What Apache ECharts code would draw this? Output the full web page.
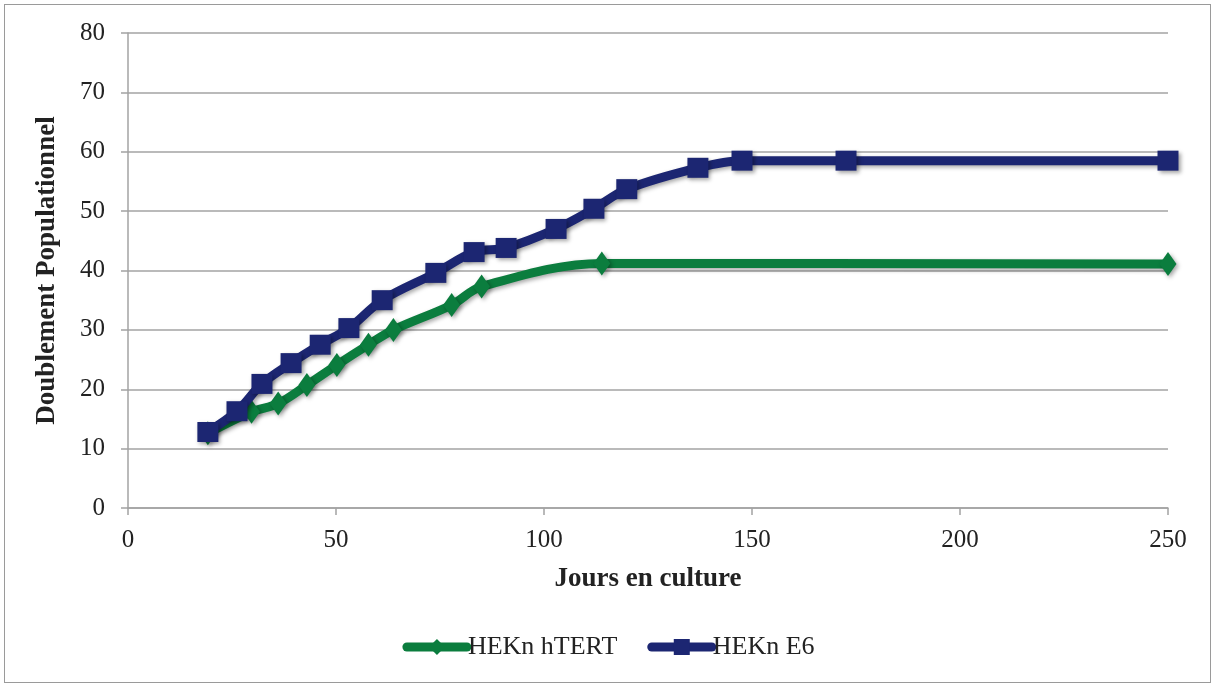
<!DOCTYPE html>
<html>
<head>
<meta charset="utf-8">
<script src="https://cdn.jsdelivr.net/npm/echarts@6/dist/echarts.min.js"></script>
<style>
  html, body { margin: 0; padding: 0; background: #fff; }
  #frame { position: absolute; left: 4px; top: 4px; width: 1207px; height: 679px; border: 1.5px solid #9a9a9a; box-sizing: border-box; }
  #chart { position: absolute; left: 0; top: 0; width: 1217px; height: 689px; }
</style>
</head>
<body>
<div id="frame"></div>
<div id="chart"></div>
<script>
// Population doublings over days in culture
const htertDays = [19.2, 29.7, 36.1, 43.0, 50.2, 57.8, 63.8, 77.8, 85.0, 113.9, 250];
const htertDoublings = [12.6, 16.2, 17.6, 20.7, 24.1, 27.5, 30.0, 34.2, 37.3, 41.2, 41.1];

const e6Days = [19.2, 26.2, 32.2, 39.2, 46.2, 53.1, 61.1, 74.0, 83.2, 90.9, 102.9, 112.0, 119.9, 137.0, 147.6, 172.6, 250];
const e6Doublings = [12.8, 16.3, 20.9, 24.4, 27.5, 30.3, 35.0, 39.6, 43.1, 43.8, 47.0, 50.4, 53.7, 57.3, 58.5, 58.5, 58.5];

const seriesNames = ['HEKn hTERT', 'HEKn E6'];
const xTitle = 'Jours en culture';
const yTitle = 'Doublement Populationnel';

const pairs = (xs, ys) => xs.map((x, i) => [x, ys[i]]);

const serif = '"Liberation Serif", "DejaVu Serif", serif';
const gridGray = '#a3a3a3';
const green = '#0b7d3e';
const navy = '#1c2672';

const chart = echarts.init(document.getElementById('chart'), null, { renderer: 'canvas' });

const shadow = { shadowColor: 'rgba(0,0,0,0.35)', shadowBlur: 4, shadowOffsetX: 2, shadowOffsetY: 2 };

chart.setOption({
  animation: false,
  backgroundColor: 'transparent',
  grid: { left: 128, right: 49, top: 33, bottom: 181, containLabel: false },
  legend: {
    bottom: 24,
    left: 'center',
    itemWidth: 60,
    itemHeight: 20,
    itemGap: 30,
    lineStyle: { width: 9, cap: 'round' },
    textStyle: { fontFamily: serif, fontSize: 26, color: '#222', padding: [0, 0, 0, -4] },
    data: [
      { name: seriesNames[0], lineStyle: { width: 9, color: green, cap: 'round' } },
      { name: seriesNames[1], lineStyle: { width: 9, color: navy, cap: 'round' } }
    ]
  },
  xAxis: {
    type: 'value',
    min: 0, max: 250, interval: 50,
    name: xTitle,
    nameLocation: 'middle',
    nameGap: 58,
    nameTextStyle: { fontFamily: serif, fontSize: 27, fontWeight: 'bold', color: '#222' },
    axisLine: { lineStyle: { color: gridGray, width: 1.5 } },
    axisTick: { show: true, length: 7, lineStyle: { color: gridGray, width: 1.5 } },
    axisLabel: { fontFamily: serif, fontSize: 25, color: '#222', margin: 20 },
    splitLine: { show: false }
  },
  yAxis: {
    type: 'value',
    min: 0, max: 80, interval: 10,
    name: yTitle,
    nameLocation: 'middle',
    nameGap: 67,
    nameRotate: 90,
    nameTextStyle: { fontFamily: serif, fontSize: 27, fontWeight: 'bold', color: '#222' },
    axisLine: { show: true, lineStyle: { color: gridGray, width: 1.5 } },
    axisTick: { show: true, length: 7, lineStyle: { color: gridGray, width: 1.5 } },
    axisLabel: { fontFamily: serif, fontSize: 25, color: '#222', margin: 23 },
    splitLine: { show: true, lineStyle: { color: gridGray, width: 1.5 } }
  },
  series: [
    {
      name: seriesNames[0],
      type: 'line',
      smooth: 0.35,
      data: pairs(htertDays, htertDoublings),
      symbol: 'diamond',
      symbolSize: [17, 24],
      color: green,
      lineStyle: Object.assign({ width: 9, color: green }, shadow),
      itemStyle: Object.assign({ color: green }, shadow),
      z: 2
    },
    {
      name: seriesNames[1],
      type: 'line',
      smooth: 0.35,
      data: pairs(e6Days, e6Doublings),
      symbol: 'rect',
      symbolSize: [21, 20],
      color: navy,
      lineStyle: Object.assign({ width: 9, color: navy }, shadow),
      itemStyle: Object.assign({ color: navy }, shadow),
      z: 3
    }
  ]
});
</script>
</body>
</html>
